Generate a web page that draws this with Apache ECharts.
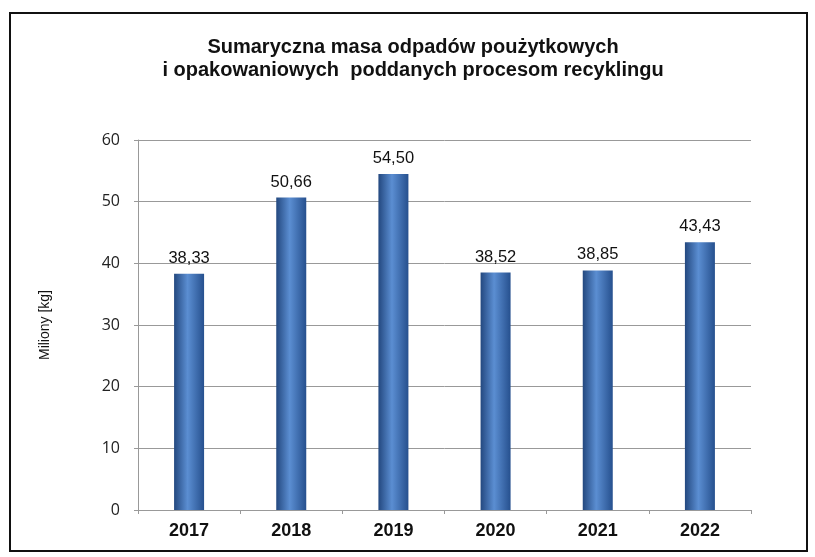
<!DOCTYPE html>
<html><head><meta charset="utf-8">
<script src="https://cdn.jsdelivr.net/npm/echarts@6/dist/echarts.min.js"></script>
<style>html,body{margin:0;padding:0;background:#fff}#c{width:815px;height:557px}</style>
</head><body><div id="c"></div>
<script>
const categories = ['2017','2018','2019','2020','2021','2022'];
const values = [38.33, 50.66, 54.50, 38.52, 38.85, 43.43];
const yTicks = [0,10,20,30,40,50,60];
const titleText = 'Sumaryczna masa odpadów poużytkowych\ni opakowaniowych  poddanych procesom recyklingu';
const yName = 'Miliony [kg]';

const chart = echarts.init(document.getElementById('c'));
chart.setOption({
  backgroundColor: '#fff',
  animation: false,
  title: {
    text: titleText, left: 408, top: 31, textAlign: 'center',
    textStyle: {fontFamily: 'Liberation Sans', fontWeight: 'bold', fontSize: 20, lineHeight: 23, color: '#111'}
  },
  graphic: [{type: 'rect', shape: {x: 10, y: 13, width: 797, height: 538},
    style: {fill: 'none', stroke: '#111', lineWidth: 2}, silent: true}],
  grid: {left: 138, right: 64, top: 140, bottom: 47},
  xAxis: {
    type: 'category', data: categories,
    axisLine: {lineStyle: {color: '#999'}},
    axisTick: {show: true, length: 4, lineStyle: {color: '#999'}},
    axisLabel: {fontFamily: 'Liberation Sans', fontWeight: 'bold', fontSize: 18, color: '#111', margin: 12}
  },
  yAxis: {
    type: 'value', min: yTicks[0], max: yTicks[yTicks.length-1], interval: 10,
    name: yName, nameLocation: 'middle', nameGap: 86, nameRotate: 90,
    nameTextStyle: {fontFamily: 'Liberation Sans', fontSize: 14, color: '#111'},
    axisLine: {show: true, lineStyle: {color: '#999'}},
    axisTick: {show: true, length: 4, lineStyle: {color: '#999'}},
    axisLabel: {fontFamily: 'Open Sans', fontSize: 16, color: '#222', margin: 18},
    splitLine: {lineStyle: {color: '#999', width: 1}}
  },
  series: [{
    type: 'bar', data: values, barWidth: 30,
    itemStyle: {color: new echarts.graphic.LinearGradient(0,0,1,0,[
      {offset: 0, color: '#23487f'}, {offset: 0.45, color: '#5b8ed2'}, {offset: 1, color: '#26508e'}])},
    label: {show: true, position: 'top', distance: 7, fontFamily: 'Liberation Sans', fontSize: 16.5, color: '#111',
      formatter: p => p.value.toFixed(2).replace('.', ',')}
  }]
});
</script></body></html>
